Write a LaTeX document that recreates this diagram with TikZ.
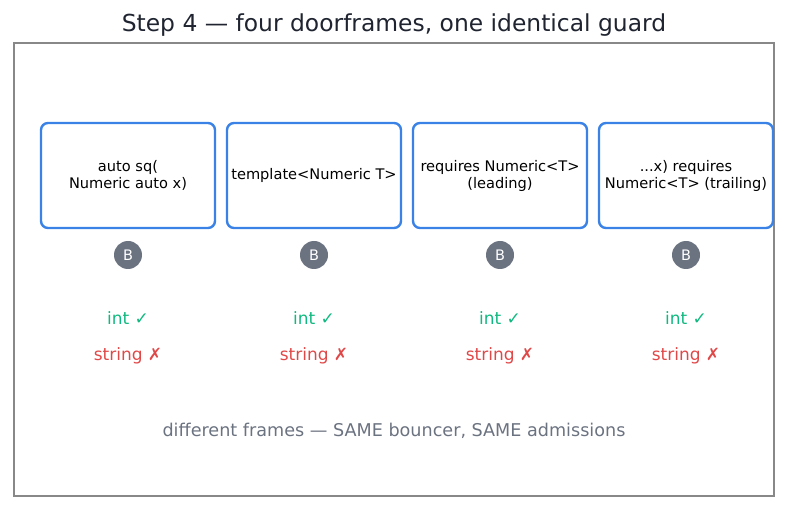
\documentclass[tikz,border=0pt]{standalone}
\usepackage{fontspec}
\setmainfont{DejaVu Sans}
\definecolor{frameblue}{HTML}{3B82E6}
\definecolor{badgegray}{HTML}{6B7280}
\definecolor{okgreen}{HTML}{10B981}
\definecolor{badred}{HTML}{E04848}
\definecolor{titlecol}{HTML}{1F2430}
\definecolor{outline}{HTML}{888888}
\begin{document}
\begin{tikzpicture}[x=1pt,y=-1pt,
  doorbox/.style={draw=frameblue,line width=2.4pt,rounded corners=7pt,minimum width=174pt,minimum height=105pt,align=center,font=\fontsize{14.6}{17}\selectfont,text=black,inner sep=1pt},
  badge/.style={circle,fill=badgegray,minimum size=28pt,inner sep=0pt,text=white,font=\fontsize{14.5}{16}\selectfont},
  oklabel/.style={text=okgreen,font=\fontsize{17}{20}\selectfont},
  badlabel/.style={text=badred,font=\fontsize{17}{20}\selectfont}]
\useasboundingbox (0,0) rectangle (787,510);
\node[text=titlecol,font=\fontsize{23.4}{26}\selectfont] (title) at (394,25.5) {Step 4 — four doorframes, one identical guard};
\draw[outline,line width=1.2pt] (14,43) rectangle (774,496);
\foreach \i/\x/\t in {1/128/{auto sq(\\Numeric auto x)},2/314/{template<Numeric T>},3/500/{requires Numeric<T>\\(leading)},4/686/{...x) requires\\Numeric<T> (trailing)}}{
  \node[doorbox] (door\i) at (\x,175.5) {\t};
  \node[badge] (b\i) at (\x,255) {B};
  \node[oklabel] (ok\i) at (\x,318) {int ✓};
  \node[badlabel] (no\i) at (\x,356) {string ✗};
}
\node[text=badgegray,font=\fontsize{17.6}{20}\selectfont] (foot) at (394,431) {different frames — SAME bouncer, SAME admissions};
\end{tikzpicture}
\end{document}
